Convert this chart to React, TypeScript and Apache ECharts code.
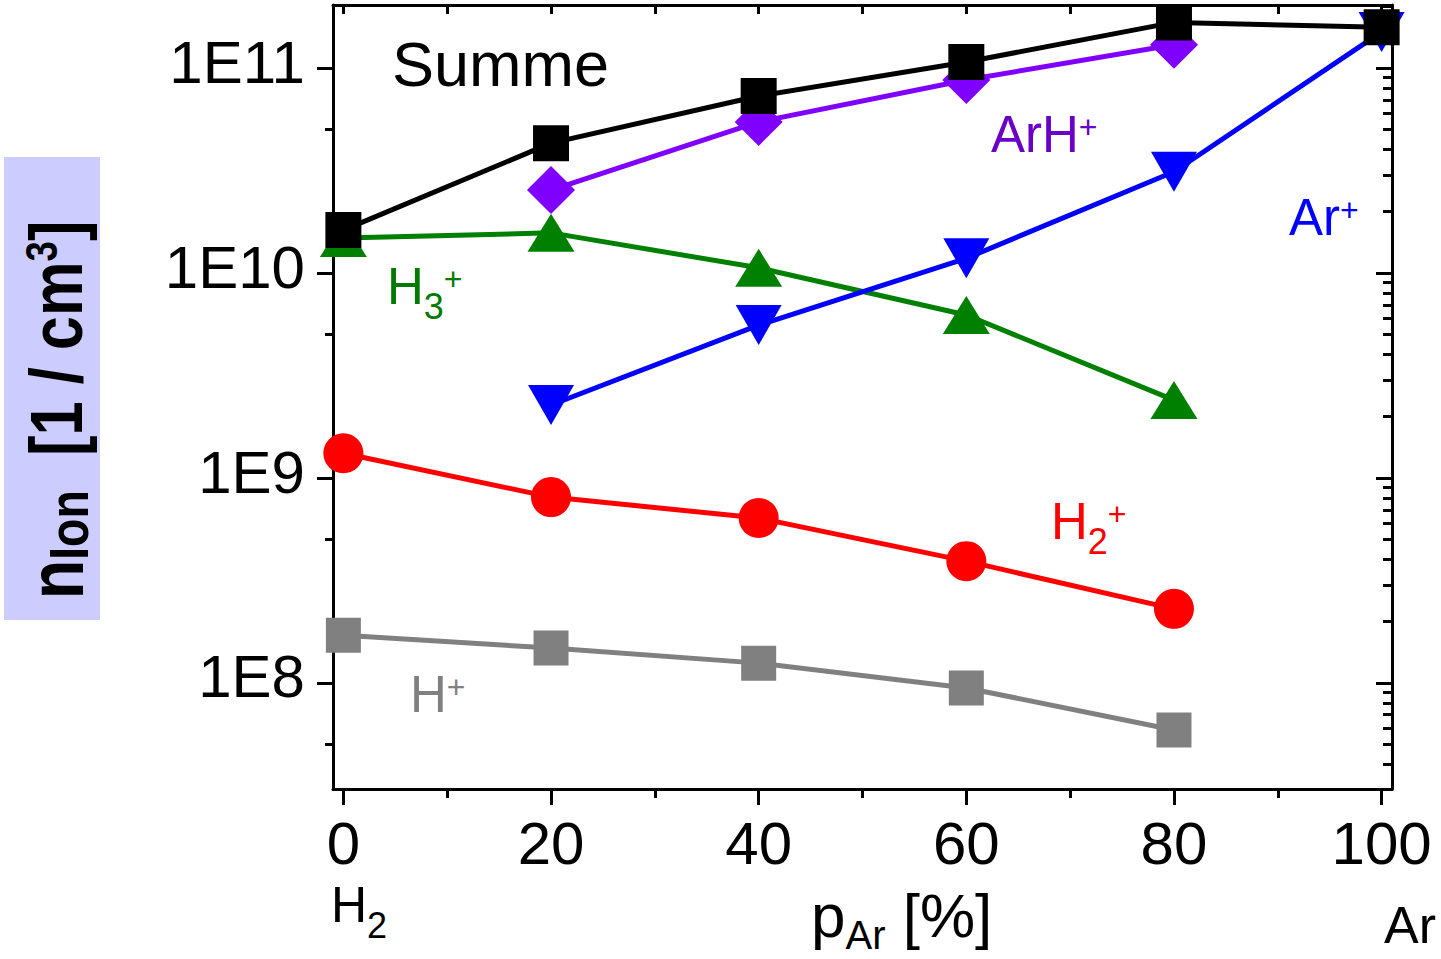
import React, { useEffect, useRef } from "react";
import * as echarts from "echarts";

// ---- data ----
const xValues = [0, 20, 40, 60, 80, 100];
const summe = [1.62e10, 4.3e10, 7.3e10, 1.07e11, 1.67e11, 1.58e11];
const arhPlus = [null, 2.54e10, 5.46e10, 8.74e10, 1.3e11, null];
const arPlus = [null, 2.27e9, 5.57e9, 1.18e10, 3.12e10, 1.5e11];
const h3Plus = [1.48e10, 1.57e10, 1.06e10, 6.24e9, 2.4e9, null];
const h2Plus = [1.32e9, 8.07e8, 6.38e8, 3.93e8, 2.3e8, null];
const hPlus = [1.71e8, 1.48e8, 1.25e8, 9.46e7, 5.9e7, null];

// ---- axes ----
const xRange = [-1, 101];
const xMajorTicks = [0, 20, 40, 60, 80, 100];
const xMinorTicks = [10, 30, 50, 70, 90];
const xTopTicks = [0, 10, 20, 30, 40, 50, 60, 70, 80, 90, 100];
const yRange = [3.04e7, 2.03e11];
const yDecadeExponents = [8, 9, 10, 11];
const yLeftMinor = [5e7, 5e8, 5e9, 5e10];
const yMinorDecades = [7, 8, 9, 10, 11];
const yMinorMultipliers = [2, 3, 4, 5, 6, 7, 8, 9];

const FONT = "'Liberation Sans', Arial, sans-serif";

const lg = (v: number) => Math.log10(v);
const toPoints = (vals: (number | null)[]) =>
  xValues
    .map((x, i) => (vals[i] == null ? null : [x, lg(vals[i] as number)]))
    .filter((p) => p !== null);

const yMin = lg(yRange[0]);
const yMax = lg(yRange[1]);
const rightMinor: number[] = [];
yMinorDecades.forEach((e) =>
  yMinorMultipliers.forEach((m) => {
    const v = lg(m) + e;
    if (v > yMin && v < yMax) rightMinor.push(v);
  })
);

function makeSeries(
  name: string,
  vals: (number | null)[],
  color: string,
  symbol: string,
  size: number | number[],
  rotate = 0
) {
  return {
    name,
    type: "line",
    xAxisIndex: 0,
    yAxisIndex: 0,
    data: toPoints(vals),
    symbol,
    symbolSize: size,
    symbolRotate: rotate,
    showAllSymbol: true,
    lineStyle: { color, width: 5, cap: "round" },
    itemStyle: { color, borderWidth: 0 },
    emphasis: { disabled: true },
    z: 2,
  };
}

function label(
  x: number,
  y: number,
  text: string,
  color: string,
  size = 51,
  subSize = 36
) {
  return {
    type: "text",
    x,
    y,
    z: 100,
    style: {
      text,
      fill: color,
      fontFamily: FONT,
      fontSize: size,
      align: "left",
      verticalAlign: "middle",
      rich: {
        m: { fontSize: size, fontFamily: FONT, fill: color, verticalAlign: "middle" },
        p: { fontSize: 32, fontFamily: FONT, fill: color, verticalAlign: "middle", padding: [0, 0, 14, 0] },
        s: { fontSize: subSize, fontFamily: FONT, fill: color, verticalAlign: "middle", padding: [40, 0, 0, 0] },
      },
    },
  };
}

export default function App() {
  const ref = useRef<HTMLDivElement>(null);
  useEffect(() => {
    if (!ref.current) return;
    const chart = echarts.init(ref.current, null, { renderer: "svg" });
    const axisLine = { show: true, onZero: false, lineStyle: { color: "#000", width: 3 } };
    const hiddenLine = { show: false, onZero: false };
    const noLabel = { show: false };
    const tickStyle = { width: 3, color: "#000" };
    const option: any = {
      animation: false,
      backgroundColor: "#fff",
      grid: { left: 333, top: 5, right: 49, bottom: 170, containLabel: false },
      xAxis: [
        {
          type: "value",
          position: "bottom",
          min: xRange[0],
          max: xRange[1],
          axisLine,
          splitLine: { show: false },
          axisTick: { show: true, inside: false, length: 16, lineStyle: tickStyle, customValues: xMajorTicks },
          axisLabel: {
            show: true,
            customValues: xMajorTicks,
            fontSize: 60,
            fontFamily: FONT,
            color: "#000",
            margin: 24,
          },
        },
        {
          type: "value",
          position: "bottom",
          min: xRange[0],
          max: xRange[1],
          axisLine: hiddenLine,
          splitLine: { show: false },
          axisTick: { show: true, inside: false, length: 9, lineStyle: tickStyle, customValues: xMinorTicks },
          axisLabel: noLabel,
        },
        {
          type: "value",
          position: "top",
          min: xRange[0],
          max: xRange[1],
          axisLine,
          splitLine: { show: false },
          axisTick: { show: true, inside: true, length: 9, lineStyle: tickStyle, customValues: xTopTicks },
          axisLabel: noLabel,
        },
      ],
      yAxis: [
        {
          type: "value",
          position: "left",
          min: yMin,
          max: yMax,
          axisLine,
          splitLine: { show: false },
          axisTick: { show: true, inside: false, length: 16, lineStyle: tickStyle, customValues: yDecadeExponents },
          axisLabel: {
            show: true,
            customValues: yDecadeExponents,
            formatter: (v: number) => "1E" + Math.round(v),
            fontSize: 60,
            fontFamily: FONT,
            color: "#000",
            margin: 28,
            verticalAlign: "bottom",
            lineHeight: 12,
          },
        },
        {
          type: "value",
          position: "left",
          min: yMin,
          max: yMax,
          axisLine: hiddenLine,
          splitLine: { show: false },
          axisTick: { show: true, inside: false, length: 8, lineStyle: tickStyle, customValues: yLeftMinor.map(lg) },
          axisLabel: noLabel,
        },
        {
          type: "value",
          position: "right",
          min: yMin,
          max: yMax,
          axisLine,
          splitLine: { show: false },
          axisTick: { show: true, inside: true, length: 16, lineStyle: tickStyle, customValues: yDecadeExponents },
          axisLabel: noLabel,
        },
        {
          type: "value",
          position: "right",
          min: yMin,
          max: yMax,
          axisLine: hiddenLine,
          splitLine: { show: false },
          axisTick: { show: true, inside: true, length: 9, lineStyle: tickStyle, customValues: rightMinor },
          axisLabel: noLabel,
        },
      ],
      series: [
        makeSeries("H+", hPlus, "#808080", "rect", 35),
        makeSeries("H2+", h2Plus, "#ff0000", "circle", 40),
        makeSeries("H3+", h3Plus, "#008000", "triangle", [47, 38]),
        makeSeries("Ar+", arPlus, "#0000ff", "triangle", [46, 40], 180),
        makeSeries("ArH+", arhPlus, "#8000ff", "diamond", [48, 48]),
        makeSeries("Summe", summe, "#000000", "rect", 36),
      ],
      graphic: [
        { type: "rect", shape: { x: 4, y: 157, width: 96, height: 463 }, style: { fill: "#ccccff" }, z: 50 },
        {
          type: "text",
          x: 56,
          y: 410,
          rotation: Math.PI / 2,
          scaleX: 0.83,
          z: 100,
          style: {
            text: "{n|n}{s|Ion}{m|  [1 / cm}{p|3}{m|]}",
            fill: "#000",
            align: "center",
            verticalAlign: "middle",
            fontFamily: FONT,
            fontWeight: "bold",
            fontSize: 74,
            rich: {
              n: { fontSize: 78, fontWeight: "bold", fontFamily: FONT, fill: "#000", verticalAlign: "middle" },
              m: { fontSize: 74, fontWeight: "bold", fontFamily: FONT, fill: "#000", verticalAlign: "middle" },
              s: { fontSize: 56, fontWeight: "bold", fontFamily: FONT, fill: "#000", verticalAlign: "middle", padding: [24, 0, 0, 0] },
              p: { fontSize: 44, fontWeight: "bold", fontFamily: FONT, fill: "#000", verticalAlign: "middle", padding: [0, 0, 28, 0] },
            },
          },
        },
        label(392, 64, "{m|Summe}", "#000", 63),
        label(991, 134, "{m|ArH}{p|+}", "#6a00c8"),
        label(1289, 217, "{m|Ar}{p|+}", "#0000ff"),
        label(387, 286, "{m|H}{s|3}{p|+}", "#007a00"),
        label(1051, 521, "{m|H}{s|2}{p|+}", "#ff0000"),
        label(410, 694, "{m|H}{p|+}", "#808080"),
        label(331, 905, "{m|H}{s|2}", "#000", 50),
        label(811, 915, "{m|p}{s|Ar}{m| [%]}", "#000", 62, 40),
        label(1384, 925, "{m|Ar}", "#000", 52),
      ],
    };
    chart.setOption(option);
    return () => chart.dispose();
  }, []);
  return <div ref={ref} style={{ width: 1441, height: 959, position: "absolute", left: 0, top: 0 }} />;
}
